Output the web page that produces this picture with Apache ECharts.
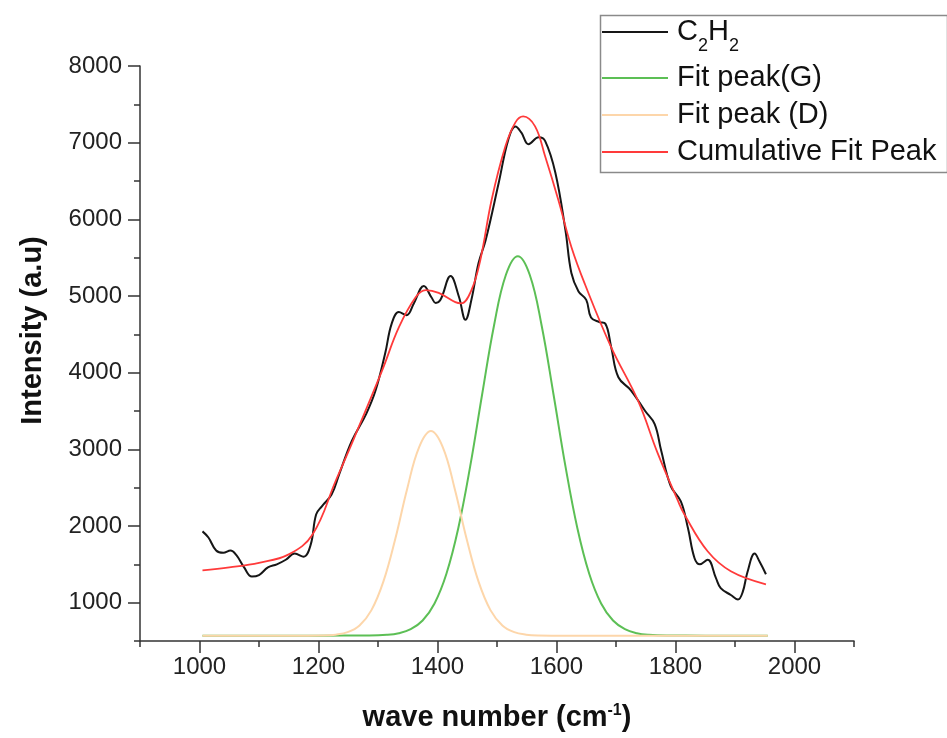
<!DOCTYPE html>
<html><head><meta charset="utf-8">
<script src="https://cdn.jsdelivr.net/npm/echarts@6/dist/echarts.min.js"></script>
<style>html,body{margin:0;padding:0;background:#fff}#c{width:947px;height:738px}</style>
</head><body><div id="c"></div>
<script>
// ---- data ----
const seriesNames = ['C2H2', 'Fit peak(G)', 'Fit peak (D)', 'Cumulative Fit Peak'];
const xMajorTicks = [1000, 1200, 1400, 1600, 1800, 2000];
const xMinorTicks = [900, 1100, 1300, 1500, 1700, 1900, 2100];
const yMajorTicks = [1000, 2000, 3000, 4000, 5000, 6000, 7000, 8000];
const yMinorTicks = [500, 1500, 2500, 3500, 4500, 5500, 6500, 7500];

const c2h2X = [1005,1015,1028,1040,1052,1062,1075,1088,1100,1115,1130,1145,1160,1175,1187,1196,1206,1222,1235,1256,1280,1296,1312,1323,1335,1348,1360,1377,1390,1397,1405,1422,1436,1447,1457,1469,1481,1503,1519,1531,1541,1553,1570,1581,1598,1615,1625,1637,1650,1658,1672,1682,1692,1704,1725,1749,1765,1776,1792,1809,1821,1832,1841,1854,1868,1876,1893,1905,1913,1921,1933,1941,1952];
const c2h2Y = [1930,1850,1680,1650,1680,1620,1460,1340,1360,1460,1500,1560,1640,1600,1760,2150,2260,2410,2680,3110,3460,3770,4250,4640,4790,4750,4900,5130,4980,4910,4950,5260,4990,4690,4950,5430,5730,6480,7040,7210,7130,6980,7070,7020,6610,5860,5300,5060,4950,4720,4660,4640,4330,3940,3770,3500,3330,2980,2520,2320,1970,1580,1500,1560,1320,1190,1100,1040,1140,1400,1640,1540,1370];

const peakGX = [1005,1200,1285,1315,1335,1355,1375,1395,1415,1435,1455,1475,1495,1515,1535,1555,1575,1595,1615,1635,1655,1675,1695,1715,1735,1755,1785,1850,1955];
const peakGY = [570,570,572,581,602,654,767,989,1377,1974,2781,3715,4616,5277,5520,5277,4616,3715,2781,1974,1377,989,767,654,602,581,572,570,570];

const peakDX = [1005,1150,1209,1229,1249,1269,1289,1309,1329,1349,1369,1389,1409,1429,1449,1469,1489,1509,1529,1549,1569,1620,1955];
const peakDY = [570,570,573,583,615,703,903,1274,1831,2484,3027,3240,3027,2484,1831,1274,903,703,615,583,573,570,570];

const cumX = [1005,1050,1100,1150,1190,1229,1260,1307,1335,1363,1380,1402,1430,1440,1457,1472,1491,1514,1531,1544,1564,1581,1603,1625,1648,1692,1737,1770,1804,1815,1854,1893,1952];
const cumY = [1420,1460,1520,1630,1890,2590,3150,4030,4590,4980,5076,5040,4920,4905,5076,5470,6256,6950,7265,7343,7212,6819,6256,5640,5150,4330,3634,2950,2330,2150,1670,1410,1240];

const colors = ['#161616', '#5cbf55', '#fdd6aa', '#ff3a3a'];

function zip(xs, ys) { return xs.map((x, i) => [x, ys[i]]); }

const FONT = 'Liberation Sans, Arial, sans-serif';
const chart = echarts.init(document.getElementById('c'), null, {renderer: 'canvas'});

const axisLineStyle = {color: '#333', width: 1.5};
const plainNum = v => String(v);

chart.setOption({
  backgroundColor: '#fff',
  animation: false,
  grid: {left: 140, right: 93, top: 66, bottom: 97, containLabel: false},
  legend: {
    orient: 'vertical', left: 602, top: 8.5, padding: 0, itemGap: 8,
    icon: 'rect', itemWidth: 66, itemHeight: 2, selectedMode: false,
    data: seriesNames,
    formatter: function (name) {
      if (name === 'C2H2') return '{m|C}{s|2}{m|H}{s|2}';
      return name;
    },
    textStyle: {
      fontFamily: FONT, fontSize: 29, lineHeight: 29, color: '#111', padding: [0, 0, 0, 4],
      rich: {
        m: {fontFamily: FONT, fontSize: 29, lineHeight: 47, color: '#111'},
        s: {fontFamily: FONT, fontSize: 18, lineHeight: 18, padding: [29, 0, 0, 0], color: '#111'}
      }
    }
  },
  graphic: [{
    type: 'rect', left: 598, top: 13, silent: true,
    shape: {width: 347, height: 157},
    style: {fill: 'none', stroke: '#8a8a8a', lineWidth: 1.5}
  }],
  xAxis: [{
    type: 'value', min: 900, max: 2100, position: 'bottom',
    name: 'wave number (cm{sup|-1})', nameLocation: 'middle', nameGap: 62,
    nameTextStyle: {
      fontFamily: FONT, fontSize: 29, fontWeight: 'bold', color: '#111', lineHeight: 30,
      rich: {sup: {fontFamily: FONT, fontSize: 16, fontWeight: 'bold', lineHeight: 16, padding: [0, 0, 14, 0], color: '#111'}}
    },
    axisLine: {show: true, onZero: false, lineStyle: axisLineStyle},
    axisTick: {show: true, length: 12, lineStyle: axisLineStyle, customValues: xMajorTicks},
    axisLabel: {show: true, margin: 14, fontFamily: FONT, fontSize: 24, color: '#222', customValues: xMajorTicks, formatter: plainNum},
    splitLine: {show: false}
  }, {
    type: 'value', min: 900, max: 2100, position: 'bottom',
    axisLine: {show: false},
    axisTick: {show: true, length: 6, lineStyle: axisLineStyle, customValues: xMinorTicks},
    axisLabel: {show: false},
    splitLine: {show: false}
  }],
  yAxis: [{
    type: 'value', min: 500, max: 8000, position: 'left',
    name: 'Intensity (a.u)', nameLocation: 'middle', nameGap: 93,
    nameTextStyle: {fontFamily: FONT, fontSize: 29, fontWeight: 'bold', color: '#111', padding: [0, 0, 0, 46]},
    axisLine: {show: true, onZero: false, lineStyle: axisLineStyle},
    axisTick: {show: true, length: 12, lineStyle: axisLineStyle, customValues: yMajorTicks},
    axisLabel: {show: true, margin: 18, fontFamily: FONT, fontSize: 24, color: '#222', customValues: yMajorTicks, formatter: plainNum},
    splitLine: {show: false}
  }, {
    type: 'value', min: 500, max: 8000, position: 'left',
    axisLine: {show: false},
    axisTick: {show: true, length: 6, lineStyle: axisLineStyle, customValues: yMinorTicks},
    axisLabel: {show: false},
    splitLine: {show: false}
  }],
  series: [
    {name: seriesNames[0], type: 'line', data: zip(c2h2X, c2h2Y), smooth: 0.4, showSymbol: false,
     lineStyle: {color: colors[0], width: 2}, itemStyle: {color: colors[0]}},
    {name: seriesNames[1], type: 'line', data: zip(peakGX, peakGY), smooth: 0.4, showSymbol: false,
     lineStyle: {color: colors[1], width: 2}, itemStyle: {color: colors[1]}},
    {name: seriesNames[2], type: 'line', data: zip(peakDX, peakDY), smooth: 0.4, showSymbol: false,
     lineStyle: {color: colors[2], width: 2}, itemStyle: {color: colors[2]}},
    {name: seriesNames[3], type: 'line', data: zip(cumX, cumY), smooth: 0.4, showSymbol: false,
     lineStyle: {color: colors[3], width: 1.8}, itemStyle: {color: colors[3]}}
  ]
});
</script>
</body></html>
